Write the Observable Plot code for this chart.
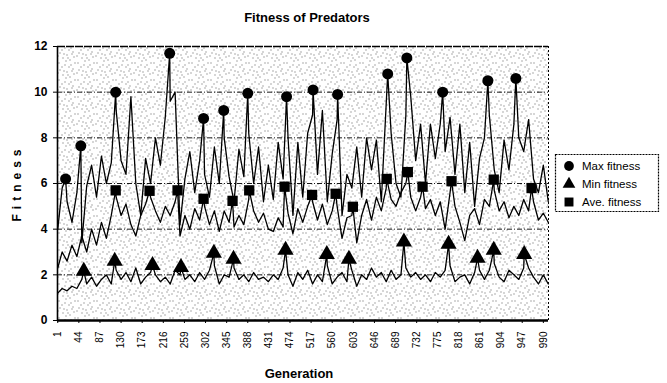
<!DOCTYPE html>
<html><head><meta charset="utf-8">
<script src="https://cdn.jsdelivr.net/npm/d3@7"></script>
<script src="https://cdn.jsdelivr.net/npm/@observablehq/plot@0.6"></script>
<style>body{margin:0;background:#fff}#chart{width:667px;height:383px}</style>
</head><body><div id="chart"></div>
<script>
// ---- data ----
const sampleGens = [1,10,20,30,40,50,60,70,80,90,100,110,120,130,140,150,160,170,180,190,200,210,220,230,240,250,260,270,280,290,300,310,320,330,340,350,360,370,380,390,400,410,420,430,440,450,460,470,480,490,500,510,520,530,540,550,560,570,580,590,600,610,620,630,640,650,660,670,680,690,700,710,720,730,740,750,760,770,780,790,800,810,820,830,840,850,860,870,880,890,900,910,920,930,940,950,960,970,980,990,1000];
const maxFitness = [4.0,5.8,5.2,4.3,5.6,3.4,5.9,6.8,5.4,7.2,6.0,6.9,9.2,7.0,6.4,9.8,6.0,4.6,7.1,6.0,8.0,6.8,8.9,9.6,10.0,4.2,6.2,7.4,5.6,7.0,6.4,5.4,7.6,6.0,8.0,6.3,5.2,7.5,6.3,8.2,6.0,7.6,5.2,6.8,5.3,7.8,6.2,8.0,4.6,7.8,5.4,8.2,9.0,6.4,9.2,5.2,7.3,8.8,4.6,6.4,5.8,7.6,5.4,8.0,6.6,7.9,5.2,9.5,8.2,6.0,5.4,9.0,9.8,7.0,8.6,6.0,8.6,7.1,8.6,7.4,8.9,6.4,8.6,5.6,7.8,5.0,7.1,8.0,9.0,6.6,5.6,7.9,6.6,8.6,8.0,7.4,8.8,6.2,5.6,6.8,5.2];
const aveFitness = [2.3,3.0,2.6,3.3,2.8,3.7,3.0,4.0,3.3,4.3,3.6,4.6,5.4,4.6,5.1,4.2,3.7,4.6,5.1,5.4,4.8,4.3,5.0,4.6,5.2,3.7,4.6,4.0,4.9,4.4,5.0,4.2,4.8,3.9,4.8,4.3,4.1,4.6,4.2,5.3,4.8,4.3,4.7,4.0,3.9,4.5,4.1,4.7,3.8,4.9,4.3,5.0,5.2,4.4,5.1,4.2,4.8,5.0,3.6,4.5,4.6,3.4,4.6,5.3,4.4,5.4,4.8,5.8,5.3,5.0,5.6,6.0,5.4,4.8,5.4,4.9,5.3,4.6,5.2,4.0,5.6,5.0,4.3,3.5,4.6,4.9,4.2,5.3,5.0,5.7,4.8,5.2,4.5,5.0,4.6,5.3,4.8,5.2,4.4,4.7,4.3];
const minFitness = [1.2,1.4,1.3,1.5,1.4,1.8,1.6,1.9,1.5,1.8,2.0,1.6,2.2,1.8,2.1,1.7,2.3,1.6,1.9,2.1,2.0,1.7,1.9,1.6,2.2,2.0,1.8,2.0,1.7,2.1,1.8,2.2,2.4,1.6,2.0,1.9,2.3,1.8,2.0,1.7,2.1,1.8,1.9,1.7,2.0,1.8,2.3,2.0,1.5,2.1,1.8,2.2,1.6,2.0,1.7,2.4,1.6,1.9,2.1,1.7,2.2,1.5,2.0,1.8,2.3,1.9,2.1,1.7,2.2,1.8,2.0,2.3,1.9,2.1,1.8,2.0,1.7,2.1,1.9,2.2,2.4,1.7,1.9,2.0,1.6,2.1,2.2,1.8,2.2,2.5,1.9,1.7,2.2,2.0,1.8,2.3,2.3,1.9,1.6,2.0,1.6];
// marked points
const maxMarkGens = [17,48,119,229,298,339,388,467,521,571,673,712,785,877,934];
const maxMarkVals = [6.2,7.65,10.0,11.7,8.85,9.2,9.95,9.8,10.1,9.9,10.8,11.5,10.0,10.5,10.6];
const aveMarkGens = [119,188,245,298,357,391,463,519,567,602,671,714,744,803,889,966];
const aveMarkVals = [5.7,5.68,5.7,5.33,5.24,5.7,5.86,5.5,5.55,4.98,6.2,6.5,5.86,6.1,6.17,5.8];
const minMarkGens = [54,117,194,252,319,359,465,549,594,706,797,856,889,951];
const minMarkVals = [2.16,2.6,2.42,2.33,2.95,2.69,3.08,2.9,2.69,3.44,3.35,2.73,3.08,2.9];
const xTickLabels = [1,44,87,130,173,216,259,302,345,388,431,474,517,560,603,646,689,732,775,818,861,904,947,990];
const yTicks = [0,2,4,6,8,10,12];
const gridVals = [2,4,6,8,10];
const seriesNames = ["Max fitness","Min fitness","Ave. fitness"];

// ---- build tables ----
function merge(vals, mg, mv) {
  const pts = sampleGens.map((g, i) => ({gen: g, v: vals[i]}));
  mg.forEach((g, i) => pts.push({gen: g, v: mv[i]}));
  return pts.sort((a, b) => a.gen - b.gen);
}
const marks = (mg, mv) => mg.map((g, i) => ({gen: g, v: mv[i]}));
const maxPts = merge(maxFitness, maxMarkGens, maxMarkVals);
const avePts = merge(aveFitness, aveMarkGens, aveMarkVals);
const minPts = merge(minFitness, minMarkGens, minMarkVals);

const font = "'Liberation Sans', Arial, sans-serif";
const plot = Plot.plot({
  width: 667, height: 383,
  marginLeft: 57, marginRight: 119, marginTop: 46, marginBottom: 63,
  style: {fontFamily: font, fontSize: "12px", background: "#fff", color: "#000", overflow: "visible"},
  x: {domain: [0.5, 1000.5], ticks: xTickLabels, tickFormat: d => String(d), tickRotate: -90, tickSize: 3, tickPadding: 8, label: null},
  y: {domain: [0, 12], ticks: yTicks, tickSize: 4, tickPadding: 6, label: null},
  marks: [
    Plot.frame({fill: "url(#stip)", stroke: "none"}),
    Plot.ruleY(gridVals, {stroke: "#000", strokeWidth: 0.9, strokeDasharray: "5,2,1,2"}),
    Plot.ruleY([12], {stroke: "#000", strokeWidth: 1.3, strokeDasharray: "8,1"}),
    Plot.ruleX([1000.5], {stroke: "#000", strokeWidth: 1, strokeDasharray: "2,2"}),
    Plot.line(minPts, {x: "gen", y: "v", stroke: "#000", strokeWidth: 1.3}),
    Plot.line(avePts, {x: "gen", y: "v", stroke: "#000", strokeWidth: 1.3}),
    Plot.line(maxPts, {x: "gen", y: "v", stroke: "#000", strokeWidth: 1.3}),
    Plot.dot(marks(maxMarkGens, maxMarkVals), {x: "gen", y: "v", symbol: "circle", r: 5.5, fill: "#000", stroke: "none"}),
    Plot.dot(marks(minMarkGens, minMarkVals), {x: "gen", y: "v", symbol: "triangle", r: 6, fill: "#000", stroke: "none"}),
    Plot.dot(marks(aveMarkGens, aveMarkVals), {x: "gen", y: "v", symbol: "square", r: 5.8, fill: "#000", stroke: "none"}),
    Plot.ruleX([0.5], {stroke: "#000", strokeWidth: 1.6}),
    Plot.ruleY([0], {stroke: "#000", strokeWidth: 2.6})
  ]
});
document.getElementById("chart").appendChild(plot);

const svg = d3.select(plot);
// stipple pattern for the plot background
const defs = svg.insert("defs", ":first-child");
const pat = defs.append("pattern").attr("id", "stip").attr("patternUnits", "userSpaceOnUse")
  .attr("width", 19).attr("height", 17);
pat.append("rect").attr("width", 19).attr("height", 17).attr("fill", "#fff");
[[2,1],[9,3],[15,0],[5,6],[12,8],[1,11],[7,13],[16,5],[4,15],[11,15],[17,11],[14,2],[8,9],[0,4],[13,13],[6,2],[10,6]].forEach(([px, py]) =>
  pat.append("rect").attr("x", px).attr("y", py).attr("width", 1).attr("height", 1).attr("fill", "#5a5a5a"));

// tick label styles
svg.selectAll('g[aria-label^="x-axis"] text').style("font-size", "10px");
svg.selectAll('g[aria-label^="y-axis"] text').style("font-size", "12px").style("font-weight", "bold");

// titles
svg.append("text").attr("x", 307).attr("y", 22).attr("text-anchor", "middle")
  .style("font-family", font).style("font-size", "13px").style("font-weight", "bold").text("Fitness of Predators");
svg.append("text").attr("transform", "translate(17,183) rotate(-90)").attr("text-anchor", "middle")
  .attr("dy", "0.35em").style("font-family", font).style("font-size", "12px").style("font-weight", "bold")
  .style("letter-spacing", "5px").text("Fitness");
svg.append("text").attr("x", 299).attr("y", 378).attr("text-anchor", "middle")
  .style("font-family", font).style("font-size", "13px").style("font-weight", "bold").text("Generation");

// legend
const lg = svg.append("g");
lg.append("rect").attr("x", 555.5).attr("y", 154.5).attr("width", 103).attr("height", 57)
  .attr("fill", "#fff").attr("stroke", "#000").attr("stroke-width", 1.2).attr("stroke-dasharray", "2,1");
const syms = [d3.symbolCircle, d3.symbolTriangle, d3.symbolSquare];
const sizes = [75, 70, 80];
seriesNames.forEach((name, i) => {
  const cy = 166 + i * 18;
  lg.append("path").attr("transform", `translate(569,${cy})`).attr("d", d3.symbol(syms[i], sizes[i])()).attr("fill", "#000");
  lg.append("text").attr("x", 582).attr("y", cy).attr("dy", "0.35em").attr("text-anchor", "start")
    .style("font-family", font).style("font-size", "11.5px").text(name);
});
</script>
</body></html>
